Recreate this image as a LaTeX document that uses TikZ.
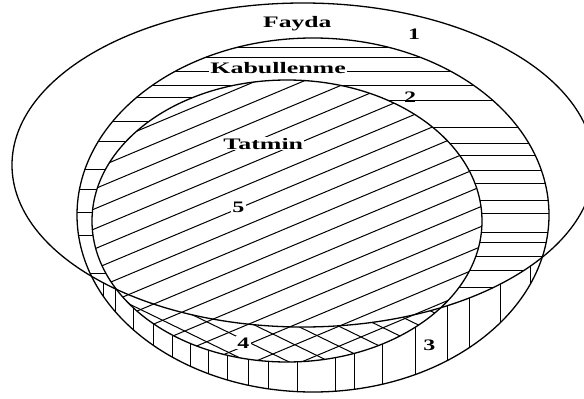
\documentclass[tikz,border=0pt]{standalone}
\usepackage{fontspec}
\setmainfont{Liberation Serif}
\usepackage{graphicx}
\begin{document}
\begin{tikzpicture}[x=1pt,y=-1pt,
  outline/.style={line width=1.3pt},
  hatch/.style={line width=1pt},
  lbl/.style={font=\fontsize{16}{16}\selectfont\bfseries, inner sep=0pt, anchor=base west},
  lblw/.style={lbl, fill=white, inner sep=1.2pt}]
\useasboundingbox (0,0) rectangle (584,399);
\clip (0,0) rectangle (584,399);
% region 3: vertical hatching inside Kabullenme
\begin{scope}
  \clip (313,215) ellipse [x radius=236pt, y radius=177pt];
  \foreach \x in {103,115,133,153,172,190,208,227,248,268,297,335,354,382,415,447,469,500,530}
    \draw[hatch] (\x,200) -- (\x,399);
  \fill[white] (303,165) ellipse [x radius=291pt, y radius=162pt];
  % region 2: horizontal hatching
  \begin{scope}
    \clip (303,165) ellipse [x radius=291pt, y radius=162pt];
    \foreach \y in {47,57,71,85}
      \draw[hatch] (60,\y) -- (570,\y);
    \foreach \y in {97,121,141,169,189,212,235,273}
      \draw[hatch] (60,\y) -- (287,\y);
    \foreach \y in {100,127,143,155,170,183,200,213,232,242,256,270,287}
      \draw[hatch] (287,\y) -- (570,\y);
  \end{scope}
\end{scope}
% Tatmin: regions 4 and 5
\begin{scope}
  \clip (287,221) ellipse [x radius=195pt, y radius=141pt];
  \fill[white] (287,221) ellipse [x radius=195pt, y radius=141pt];
  \foreach \c in {200,220,...,460}
    \draw[hatch] (80,{\c-80}) -- (480,{\c+115});
  \fill[white] (303,165) ellipse [x radius=291pt, y radius=162pt];
  \foreach \c in {13,33,...,473}
    \draw[hatch] (60,{\c+50.4}) -- (500,{\c-134.4});
\end{scope}
% outlines
\draw[outline] (303,165) ellipse [x radius=291pt, y radius=162pt];
\draw[outline] (313,215) ellipse [x radius=236pt, y radius=177pt];
\draw[outline] (287,221) ellipse [x radius=195pt, y radius=141pt];
% labels
\node[lbl] (fayda) at (263,27) {\scalebox{1.6}[1]{Fayda}};
\node[lbl] (n1) at (408,39) {\scalebox{1.5}[1]{1}};
\node[lblw] (kab) at (209,73) {\scalebox{1.62}[1]{Kabullenme}};
\node[lbl] (n2) at (404,102) {\scalebox{1.5}[1]{2}};
\node[lblw] (tat) at (222,149) {\scalebox{1.62}[1]{Tatmin}};
\node[lblw] (n5) at (231,212) {\scalebox{1.5}[1]{5}};
\node[lblw] (n4) at (236,348) {\scalebox{1.5}[1]{4}};
\node[lblw] (n3) at (422,350) {\scalebox{1.5}[1]{3}};
\end{tikzpicture}
\end{document}
